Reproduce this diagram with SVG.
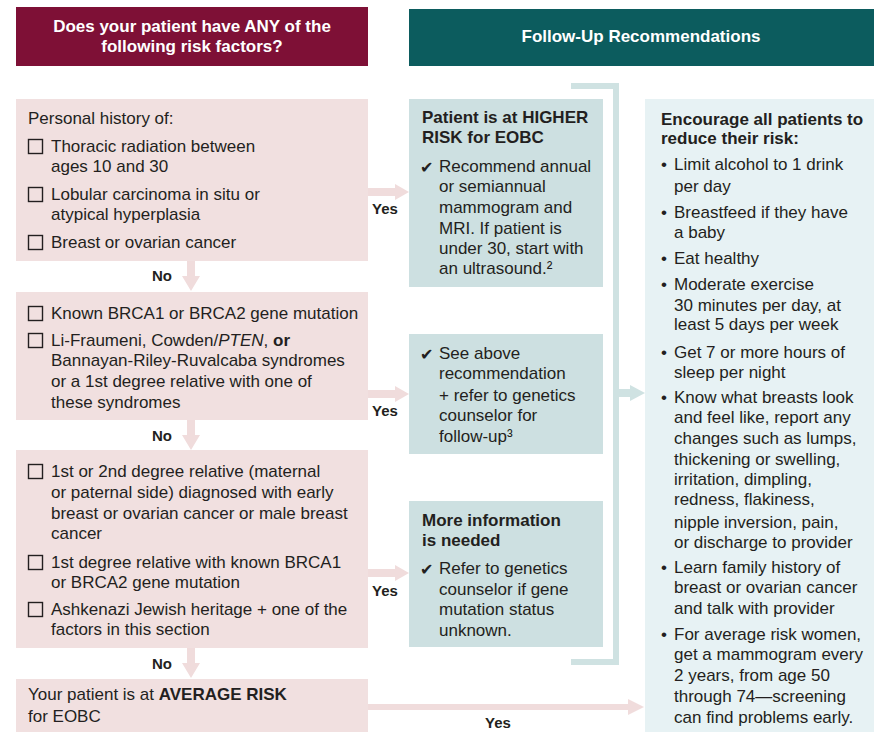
<svg xmlns="http://www.w3.org/2000/svg" width="874" height="732" viewBox="0 0 874 732">
<style>
text{font-family:"Liberation Sans",Arial,sans-serif;font-size:17px;fill:#231f20}
.b{font-weight:bold}
.hd{font-weight:bold;fill:#fff;text-anchor:middle}
.lbl{font-weight:bold;font-size:15px;text-anchor:middle}
.ck{font-family:"DejaVu Sans",sans-serif;font-size:16px}
.pink{fill:#f1e0e0}
.mid{fill:#cde0e1}
.right{fill:#e7f2f4}
.cb{fill:none;stroke:#231f20;stroke-width:1.4}
.arp{fill:#f0dcdc}
.art{fill:#cfe2e2}
</style>
<g id="header-left"><rect x="16" y="7" width="352" height="59" fill="#7e1036"/>
<text class="hd" x="192" y="32">Does your patient have ANY of the</text>
<text class="hd" x="192" y="52">following risk factors?</text></g>
<g id="header-right"><rect x="409" y="9" width="465" height="57" fill="#0c5c5e"/>
<text class="hd" x="641" y="42">Follow-Up Recommendations</text></g>

<g id="connectors">
<polygon class="arp" points="187,261 195,261 195,276 200,276 191,291 182,276 187,276"/>
<polygon class="arp" points="187,420 195,420 195,435 200,435 191,450 182,435 187,435"/>
<polygon class="arp" points="187,648 195,648 195,663 200,663 191,678 182,663 187,663"/>
<polygon class="arp" points="368,188 395,188 395,184 409,192 395,200 395,196 368,196"/>
<polygon class="arp" points="368,390 395,390 395,386 409,394 395,402 395,398 368,398"/>
<polygon class="arp" points="368,569 395,569 395,565 409,573 395,581 395,577 368,577"/>
<polygon class="arp" points="368,704 628,704 628,699 644,707 628,715 628,710 368,710"/>
<path d="M571,86 H616 V662 H571" fill="none" stroke="#cfe2e2" stroke-width="6"/>
<polygon class="art" points="619,389 630,389 630,385 645,393 630,401 630,397 619,397"/>
<text class="lbl" x="162" y="281">No</text>
<text class="lbl" x="162" y="441">No</text>
<text class="lbl" x="162" y="669">No</text>
<text class="lbl" x="385" y="214">Yes</text>
<text class="lbl" x="385" y="416">Yes</text>
<text class="lbl" x="385" y="596">Yes</text>
<text class="lbl" x="498" y="728">Yes</text>
</g>

<g id="box-personal"><rect class="pink" x="16" y="99" width="352" height="162"/>
<text x="28" y="124">Personal history of:</text>
<rect class="cb" x="28.5" y="139.5" width="14" height="14"/>
<text x="51" y="152">Thoracic radiation between</text>
<text x="51" y="172">ages 10 and 30</text>
<rect class="cb" x="28.5" y="187.5" width="14" height="14"/>
<text x="51" y="200">Lobular carcinoma in situ or</text>
<text x="51" y="220">atypical hyperplasia</text>
<rect class="cb" x="28.5" y="235.5" width="14" height="14"/>
<text x="51" y="248">Breast or ovarian cancer</text></g>

<g id="box-genetic"><rect class="pink" x="16" y="292" width="352" height="128"/>
<rect class="cb" x="28.5" y="306.5" width="14" height="14"/>
<text x="51" y="319">Known BRCA1 or BRCA2 gene mutation</text>
<rect class="cb" x="28.5" y="333.5" width="14" height="14"/>
<text x="51" y="346">Li-Fraumeni, Cowden/<tspan font-style="italic">PTEN</tspan>, <tspan class="b">or</tspan></text>
<text x="51" y="366">Bannayan-Riley-Ruvalcaba syndromes</text>
<text x="51" y="387">or a 1st degree relative with one of</text>
<text x="51" y="408">these syndromes</text></g>

<g id="box-family"><rect class="pink" x="16" y="450" width="352" height="198"/>
<rect class="cb" x="28.5" y="464.5" width="14" height="14"/>
<text x="51" y="477">1st or 2nd degree relative (maternal</text>
<text x="51" y="498">or paternal side) diagnosed with early</text>
<text x="51" y="519">breast or ovarian cancer or male breast</text>
<text x="51" y="539">cancer</text>
<rect class="cb" x="28.5" y="555.5" width="14" height="14"/>
<text x="51" y="568">1st degree relative with known BRCA1</text>
<text x="51" y="588">or BRCA2 gene mutation</text>
<rect class="cb" x="28.5" y="602.5" width="14" height="14"/>
<text x="51" y="615">Ashkenazi Jewish heritage + one of the</text>
<text x="51" y="635">factors in this section</text></g>

<g id="box-average"><rect class="pink" x="16" y="679" width="352" height="53"/>
<text x="28" y="700">Your patient is at <tspan class="b">AVERAGE RISK</tspan></text>
<text x="28" y="722">for EOBC</text></g>

<g id="box-higher"><rect class="mid" x="409" y="99" width="194" height="188"/>
<text class="b" x="422" y="123">Patient is at HIGHER</text>
<text class="b" x="422" y="143">RISK for EOBC</text>
<text class="ck" x="420" y="173">✔</text>
<text x="439" y="172">Recommend annual</text>
<text x="439" y="192">or semiannual</text>
<text x="439" y="213">mammogram and</text>
<text x="439" y="234">MRI. If patient is</text>
<text x="439" y="254">under 30, start with</text>
<text x="439" y="274">an ultrasound.²</text></g>

<g id="box-seeabove"><rect class="mid" x="409" y="334" width="194" height="120"/>
<text class="ck" x="420" y="360">✔</text>
<text x="439" y="359">See above</text>
<text x="439" y="379">recommendation</text>
<text x="439" y="401">+ refer to genetics</text>
<text x="439" y="421">counselor for</text>
<text x="439" y="442">follow-up³</text></g>

<g id="box-moreinfo"><rect class="mid" x="409" y="501" width="194" height="146"/>
<text class="b" x="422" y="526">More information</text>
<text class="b" x="422" y="546">is needed</text>
<text class="ck" x="420" y="575">✔</text>
<text x="439" y="574">Refer to genetics</text>
<text x="439" y="595">counselor if gene</text>
<text x="439" y="615">mutation status</text>
<text x="439" y="636">unknown.</text></g>

<g id="box-encourage"><rect class="right" x="645" y="99" width="229" height="633"/>
<text class="b" x="661" y="125">Encourage all patients to</text>
<text class="b" x="661" y="144">reduce their risk:</text>
<text x="661" y="170">•</text><text x="674" y="170">Limit alcohol to 1 drink</text>
<text x="674" y="192">per day</text>
<text x="661" y="218">•</text><text x="674" y="218">Breastfeed if they have</text>
<text x="674" y="238">a baby</text>
<text x="661" y="264">•</text><text x="674" y="264">Eat healthy</text>
<text x="661" y="290">•</text><text x="674" y="290">Moderate exercise</text>
<text x="674" y="311">30 minutes per day, at</text>
<text x="674" y="330">least 5 days per week</text>
<text x="661" y="358">•</text><text x="674" y="358">Get 7 or more hours of</text>
<text x="674" y="378">sleep per night</text>
<text x="661" y="403">•</text><text x="674" y="403">Know what breasts look</text>
<text x="674" y="423">and feel like, report any</text>
<text x="674" y="444">changes such as lumps,</text>
<text x="674" y="465">thickening or swelling,</text>
<text x="674" y="485">irritation, dimpling,</text>
<text x="674" y="505">redness, flakiness,</text>
<text x="674" y="528">nipple inversion, pain,</text>
<text x="674" y="548">or discharge to provider</text>
<text x="661" y="573">•</text><text x="674" y="573">Learn family history of</text>
<text x="674" y="593">breast or ovarian cancer</text>
<text x="674" y="614">and talk with provider</text>
<text x="661" y="640">•</text><text x="674" y="640">For average risk women,</text>
<text x="674" y="660">get a mammogram every</text>
<text x="674" y="681">2 years, from age 50</text>
<text x="674" y="702">through 74—screening</text>
<text x="674" y="723">can find problems early.</text></g>
</svg>
